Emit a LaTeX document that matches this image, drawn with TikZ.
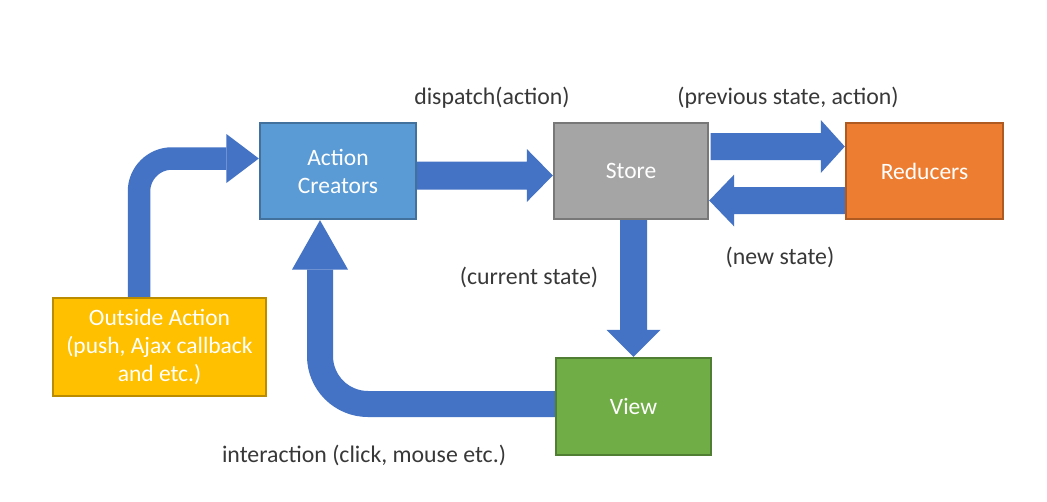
\documentclass[tikz,border=0pt]{standalone}
\usepackage{fontspec}
\setmainfont{Carlito}
\usetikzlibrary{calc}
\definecolor{arrowblue}{HTML}{4472C4}
\definecolor{acblue}{HTML}{5B9BD5}
\definecolor{acborder}{HTML}{41719C}
\definecolor{stgrey}{HTML}{A5A5A5}
\definecolor{stborder}{HTML}{787878}
\definecolor{rdorange}{HTML}{ED7D31}
\definecolor{rdborder}{HTML}{AE5A21}
\definecolor{oagold}{HTML}{FFC000}
\definecolor{oaborder}{HTML}{BC8C00}
\definecolor{vwgreen}{HTML}{70AD47}
\definecolor{vwborder}{HTML}{507E32}
\definecolor{labelgrey}{HTML}{383838}
\newcommand\myHArrow[5]{% start, tip, shaft half width, head half width, head length (signed)
  \fill[arrowblue] ($(#1)+(0,-#3)$) -- ($(#2)-(#5,#3)$) -- ($(#2)-(#5,#4)$) -- (#2)
    -- ($(#2)-(#5,-#4)$) -- ($(#2)-(#5,-#3)$) -- ($(#1)+(0,#3)$) -- cycle;}
\newcommand\myVArrow[5]{% start, tip, shaft half width, head half width, head length (signed, down positive)
  \fill[arrowblue] ($(#1)+(-#3,0)$) -- ($(#2)-(#3,#5)$) -- ($(#2)-(#4,#5)$) -- (#2)
    -- ($(#2)-(-#4,#5)$) -- ($(#2)-(-#3,#5)$) -- ($(#1)+(#3,0)$) -- cycle;}
\begin{document}
\begin{tikzpicture}[x=1pt,y=-1pt,
  box/.style={draw, line width=1.2pt, inner sep=0pt, text=white, align=center,
    font=\fontsize{23.5}{28}\selectfont},
  lbl/.style={text=labelgrey, inner sep=0pt, font=\fontsize{23.8}{28}\selectfont},
  shaft/.style={draw=arrowblue}]
\useasboundingbox (0,0) rectangle (1047,501);
\fill[white] (0,0) rectangle (1047,501);
% boxes
\node[box, fill=oagold, draw=oaborder, minimum width=213pt, minimum height=98pt] (oa) at (159.5,347)
  {Outside Action\\(push, Ajax callback\\and etc.)};
\node[box, fill=acblue, draw=acborder, minimum width=156pt, minimum height=96pt] (ac) at (338,171)
  {Action\\Creators};
\node[box, fill=stgrey, draw=stborder, minimum width=154pt, minimum height=96pt] (st) at (631,171) {Store};
\node[box, fill=rdorange, draw=rdborder, minimum width=157pt, minimum height=96pt] (rd) at (924.5,171) {Reducers};
\node[box, fill=vwgreen, draw=vwborder, minimum width=155pt, minimum height=97pt] (vw) at (633.5,406.5) {View};
% arrows
\coordinate (a1s) at ($(ac.east)+(0.6,4.5)$);
\coordinate (a1t) at ($(st.west)+(-0.6,4.5)$);
\myHArrow{a1s}{a1t}{14}{26.5}{26}
\coordinate (a2s) at ($(st.east)+(2,-24.5)$);
\coordinate (a2t) at ($(rd.west)+(-0.6,-24.5)$);
\myHArrow{a2s}{a2t}{13.5}{26.5}{24}
\coordinate (a3s) at ($(rd.west)+(-0.6,29.5)$);
\coordinate (a3t) at ($(st.east)+(0.6,29.5)$);
\myHArrow{a3s}{a3t}{13.5}{26}{-25}
\coordinate (a4s) at ($(st.south)+(2.5,0.6)$);
\coordinate (a4t) at ($(vw.north)+(0,-0.6)$);
\myVArrow{a4s}{a4t}{13.5}{27}{27}
% outside action -> action creators
\coordinate (a5s) at ($(oa.north)+(-20.5,-0.6)$);
\coordinate (a5b) at ($(ac.west)+(-33,-12.5)$);
\coordinate (a5t) at ($(ac.west)+(-0.6,-12.5)$);
\draw[shaft, line width=22.5pt, rounded corners=33pt] (a5s) |- (a5b);
\myHArrow{a5b}{a5t}{11.25}{24.5}{32.4}
% view -> action creators
\coordinate (a6s) at ($(vw.west)+(-0.6,-2.5)$);
\coordinate (a6b) at ($(ac.south)+(-18,50)$);
\coordinate (a6t) at ($(ac.south)+(-18,0.6)$);
\draw[shaft, line width=26pt, rounded corners=48pt] (a6s) -| (a6b);
\myVArrow{a6b}{a6t}{13}{28}{-49.4}
% labels
\node[lbl] (l1) at (492,98) {dispatch(action)};
\node[lbl] (l2) at (788,98) {(previous state, action)};
\node[lbl] (l3) at (780,257) {(new state)};
\node[lbl] (l4) at (529,277) {(current state)};
\node[lbl] (l5) at (364,455) {interaction (click, mouse etc.)};
\end{tikzpicture}
\end{document}
